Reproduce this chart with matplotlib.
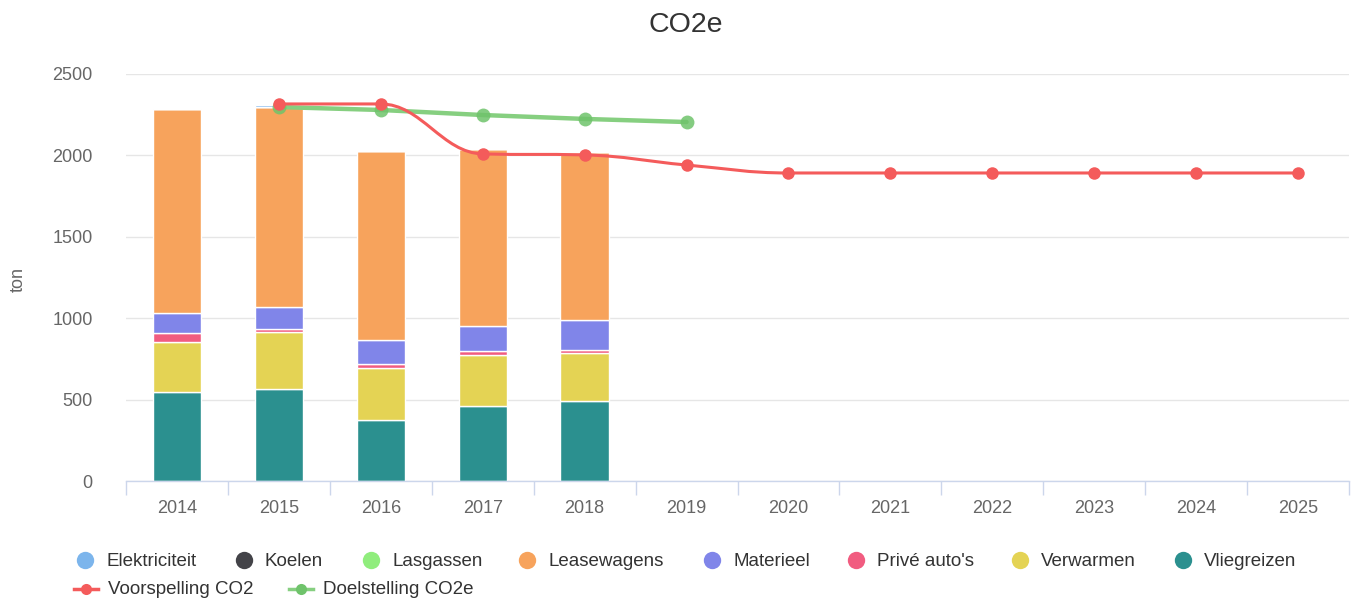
import numpy as np
import matplotlib
matplotlib.use("Agg")
import matplotlib.pyplot as plt
from matplotlib.path import Path
from matplotlib.patches import PathPatch
from matplotlib.lines import Line2D

plt.rcParams['font.family'] = ['Liberation Sans', 'DejaVu Sans']

years = ['2014', '2015', '2016', '2017', '2018', '2019', '2020', '2021', '2022', '2023', '2024', '2025']

# stacked categories (legend order; first is drawn on top)
series_names = ['Elektriciteit', 'Koelen', 'Lasgassen', 'Leasewagens', 'Materieel',
                "Privé auto's", 'Verwarmen', 'Vliegreizen']
series_colors = ['#7cb5ec', '#434348', '#90ed7d', '#f7a35c', '#8085e9', '#f15c80', '#e4d354', '#2b908f']

elektriciteit = [0, 15, 0, 0, 0]
koelen = [0, 0, 0, 0, 0]
lasgassen = [0, 0, 0, 0, 0]
leasewagens = [1255, 1228, 1165, 1087, 1030]
materieel = [121, 135, 147, 153, 184]
prive_autos = [57, 21, 21, 25, 21]
verwarmen = [307, 346, 323, 313, 295]
vliegreizen = [545, 567, 373, 461, 491]

voorspelling_years = ['2015', '2016', '2017', '2018', '2019', '2020', '2021', '2022', '2023', '2024', '2025']
voorspelling = [2316, 2316, 2009, 2003, 1941, 1892, 1892, 1892, 1892, 1892, 1892]

doelstelling_years = ['2015', '2016', '2017', '2018', '2019']
doelstelling = [2297, 2279, 2248, 2224, 2205]

stack_data = [elektriciteit, koelen, lasgassen, leasewagens, materieel, prive_autos, verwarmen, vliegreizen]

W, H = 1356, 600
fig = plt.figure(figsize=(W / 100, H / 100), dpi=100)
ax = fig.add_axes([126 / W, 1 - 481 / H, (1349 - 126) / W, (481 - 74) / H])

x_all = np.arange(len(years))
nb = len(vliegreizen)
bottom = np.zeros(nb)
# draw from bottom (last series) upward
for name, color, vals in reversed(list(zip(series_names, series_colors, stack_data))):
    vals = np.array(vals, dtype=float)
    ax.bar(x_all[:nb], vals, width=0.475, bottom=bottom, color=color,
           edgecolor='white', linewidth=1, zorder=2)
    bottom += vals

# Highcharts-like spline through the forecast points
def spline_path(xs, ys, smoothing=1.5):
    n = len(xs)
    denom = smoothing + 1
    rc = [None] * n
    lc = [None] * n
    for i in range(1, n - 1):
        lx, ly = xs[i - 1], ys[i - 1]
        px, py = xs[i], ys[i]
        nx, ny = xs[i + 1], ys[i + 1]
        lcx = (smoothing * px + lx) / denom
        lcy = (smoothing * py + ly) / denom
        rcx = (smoothing * px + nx) / denom
        rcy = (smoothing * py + ny) / denom
        corr = 0
        if rcx != lcx:
            corr = (rcy - lcy) * (rcx - px) / (rcx - lcx) + py - rcy
        lcy += corr
        rcy += corr
        if lcy > ly and lcy > py:
            lcy = max(ly, py); rcy = 2 * py - lcy
        elif lcy < ly and lcy < py:
            lcy = min(ly, py); rcy = 2 * py - lcy
        if rcy > ny and rcy > py:
            rcy = max(ny, py); lcy = 2 * py - rcy
        elif rcy < ny and rcy < py:
            rcy = min(ny, py); lcy = 2 * py - rcy
        lc[i] = (lcx, lcy)
        rc[i] = (rcx, rcy)
    verts = [(xs[0], ys[0])]
    codes = [Path.MOVETO]
    for i in range(1, n):
        c1 = rc[i - 1] if rc[i - 1] is not None else (xs[i - 1], ys[i - 1])
        c2 = lc[i] if lc[i] is not None else (xs[i], ys[i])
        verts += [c1, c2, (xs[i], ys[i])]
        codes += [Path.CURVE4] * 3
    return Path(verts, codes)

vx = np.array([years.index(y) for y in voorspelling_years], dtype=float)
vy = np.array(voorspelling, dtype=float)
dx = np.array([years.index(y) for y in doelstelling_years], dtype=float)
dy = np.array(doelstelling, dtype=float)

red = '#f45b5b'
green_line = '#86cf80'
green_mark = '#6fc36b'

ax.plot(dx, dy, color=green_line, lw=3.2, zorder=3, solid_capstyle='round')
ax.plot(dx, dy, 'o', color=green_mark, ms=10, alpha=0.85, zorder=3, mec='none')

ax.add_patch(PathPatch(spline_path(vx, vy), facecolor='none', edgecolor=red, lw=2.2, zorder=4))
ax.plot(vx, vy, 'o', color=red, ms=9, zorder=5, mec='none')

ax.set_xlim(-0.5, len(years) - 0.5)
ax.set_ylim(0, 2500)
ax.set_yticks([0, 500, 1000, 1500, 2000, 2500])
ax.set_xticks(x_all)
ax.set_xticklabels(years)
ax.set_xticks(np.arange(-0.5, len(years), 1.0), minor=True)
ax.tick_params(axis='x', which='major', length=0, pad=14, labelsize=13, labelcolor='#666666')
ax.tick_params(axis='x', which='minor', length=10, color='#ccd6eb', width=1)
ax.tick_params(axis='y', length=0, pad=24, labelsize=13, labelcolor='#666666')
ax.grid(axis='y', color='#e6e6e6', lw=1, zorder=0)
ax.set_axisbelow(True)
for s in ['top', 'right', 'left']:
    ax.spines[s].set_visible(False)
ax.spines['bottom'].set_color('#ccd6eb')
ax.spines['bottom'].set_linewidth(1)
ax.spines['bottom'].set_zorder(3)

fig.text(18 / W, 1 - 280 / H, 'ton', rotation=90, ha='center', va='center', fontsize=13, color='#666666')
fig.text(686 / W, 1 - 25 / H, 'CO2e', ha='center', va='center', fontsize=20.5, color='#333333')

# legend (manual placement like Highcharts)
row1_circ = [85, 244, 371, 527, 712, 856, 1020, 1183]
for name, color, cx in zip(series_names, series_colors, row1_circ):
    yy = 1 - 561 / H
    fig.add_artist(Line2D([cx / W], [yy + 1 / H], marker='o', ms=12.5, color=color, mec='none',
                          transform=fig.transFigure))
    fig.text((cx + 21) / W, yy, name, ha='left', va='center', fontsize=13.5, color='#333333')

for name, lc, mc, cx in [('Voorspelling CO2', red, red, 86), ('Doelstelling CO2e', green_line, green_mark, 301)]:
    yy = 1 - 590 / H
    fig.add_artist(Line2D([(cx - 12) / W, (cx + 12) / W], [yy + 1 / H, yy + 1 / H], color=lc, lw=2.5,
                          transform=fig.transFigure))
    fig.add_artist(Line2D([cx / W], [yy + 1 / H], marker='o', ms=8, color=mc, mec='none',
                          transform=fig.transFigure))
    fig.text((cx + 22) / W, yy, name, ha='left', va='center', fontsize=13.5, color='#333333')

fig.savefig('out.png', dpi=100, facecolor='white')
